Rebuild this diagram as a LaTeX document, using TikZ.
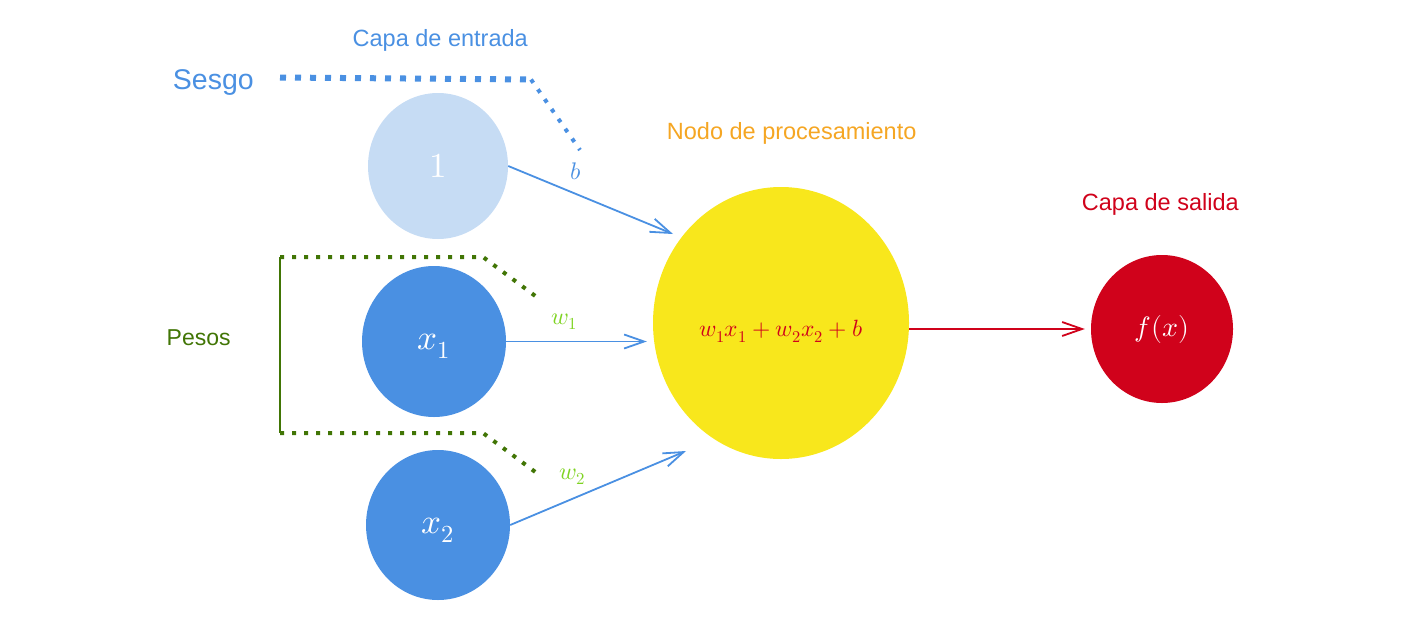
\documentclass[tikz,border=0pt]{standalone}
\usepackage{fontspec}
\usepackage{unicode-math}
\setmainfont{Liberation Sans}
\setmathfont{Latin Modern Math}
\usetikzlibrary{arrows.meta,shapes.geometric}
\definecolor{cblue}{HTML}{4A90E2}
\definecolor{clight}{HTML}{C6DCF4}
\definecolor{cyellow}{HTML}{F8E71C}
\definecolor{cred}{HTML}{D0021B}
\definecolor{corange}{HTML}{F5A623}
\definecolor{cgreen}{HTML}{417505}
\definecolor{clime}{HTML}{7ED321}
\newcommand{\lowerby}[2]{\raisebox{-#1}[\height][\depth]{#2}}
\begin{document}
\begin{tikzpicture}[x=1pt,y=-1pt,
  neuron/.style={ellipse, inner sep=0pt, text=white, font=\fontsize{35}{40}\selectfont},
  lbl/.style={inner sep=0pt, anchor=base west, font=\fontsize{23.5}{28}\selectfont},
  mlbl/.style={inner sep=0pt, anchor=base west, font=\fontsize{24}{28}\selectfont},
  conn/.style={-{Straight Barb[length=20pt,width=14pt,line width=1.8pt]}, line width=1.8pt},
  bigdots/.style={cblue, line width=6pt, dash pattern=on 6pt off 9pt},
  smalldots/.style={cblue, line width=4pt, dash pattern=on 4pt off 8pt},
  greendots/.style={cgreen, line width=4pt, dash pattern=on 4pt off 8pt}]
\useasboundingbox (0,0) rectangle (1404,632);

% neurons
\node[neuron, fill=clight, minimum width=140pt, minimum height=146pt] (one) at (438,166) {$1$};
\node[neuron, fill=cblue, minimum width=144pt, minimum height=151pt] (x1) at (434,341.5) {\lowerby{5pt}{$x_1$}};
\node[neuron, fill=cblue, minimum width=144pt, minimum height=150pt] (x2) at (438,525) {\lowerby{5pt}{$x_2$}};
\node[neuron, fill=cyellow, text=cred, minimum width=256pt, minimum height=272pt,
      font=\fontsize{23.5}{28}\selectfont] (sum) at (781,323) {\lowerby{8pt}{$w_1x_1+w_2x_2+b$}};
\node[neuron, fill=cred, minimum width=142pt, minimum height=148pt,
      font=\fontsize{28}{32}\selectfont] (out) at (1162,329) {$f(x)$};

% labels
\node[lbl, text=cblue] (cin) at (352.5,46.7) {Capa de entrada};
\node[lbl, text=cblue, font=\fontsize{28.5}{34}\selectfont] (ses) at (172.7,89) {Sesgo};
\node[lbl, text=corange] (nodo) at (666.7,139.3) {Nodo de procesamiento};
\node[lbl, text=cred] (csal) at (1081.7,210) {Capa de salida};
\node[lbl, text=cgreen, font=\fontsize{23}{28}\selectfont] (pesos) at (166.5,345.5) {Pesos};
\node[mlbl, text=cblue] (lb) at (570,179) {$b$};
\node[mlbl, text=clime] (lw1) at (551,324) {$w_1$};
\node[mlbl, text=clime] (lw2) at (559,479) {$w_2$};

% free ends
\coordinate (t1) at (673,234);
\coordinate (t2) at (686,451);
\coordinate (s0) at (280,77.5);
\coordinate (s1) at (531,79.5);
\coordinate (s2) at (580,150);
\coordinate (g0) at (280,257);
\coordinate (g1) at (483,257);
\coordinate (g2) at (538,298);
\coordinate (h0) at (280,433);
\coordinate (h1) at (483,433);
\coordinate (h2) at (538,474);

% connectors
\draw[conn, cblue] (one.east) -- (t1);
\draw[conn, cblue, shorten >=6pt] (x1.east) -- (x1.east -| sum.west);
\draw[conn, cblue] (x2.east) -- (t2);
\draw[conn, cred, shorten >=6pt] (sum.east |- out.west) -- (out.west);

% Sesgo bracket
\draw[bigdots] (s0) -- (s1);
\draw[smalldots] (s1) -- (s2);

% Pesos bracket
\draw[cgreen, line width=2.2pt] (g0) -- (h0);
\draw[greendots] (g0) -- (g1) -- (g2);
\draw[greendots] (h0) -- (h1) -- (h2);
\end{tikzpicture}
\end{document}
